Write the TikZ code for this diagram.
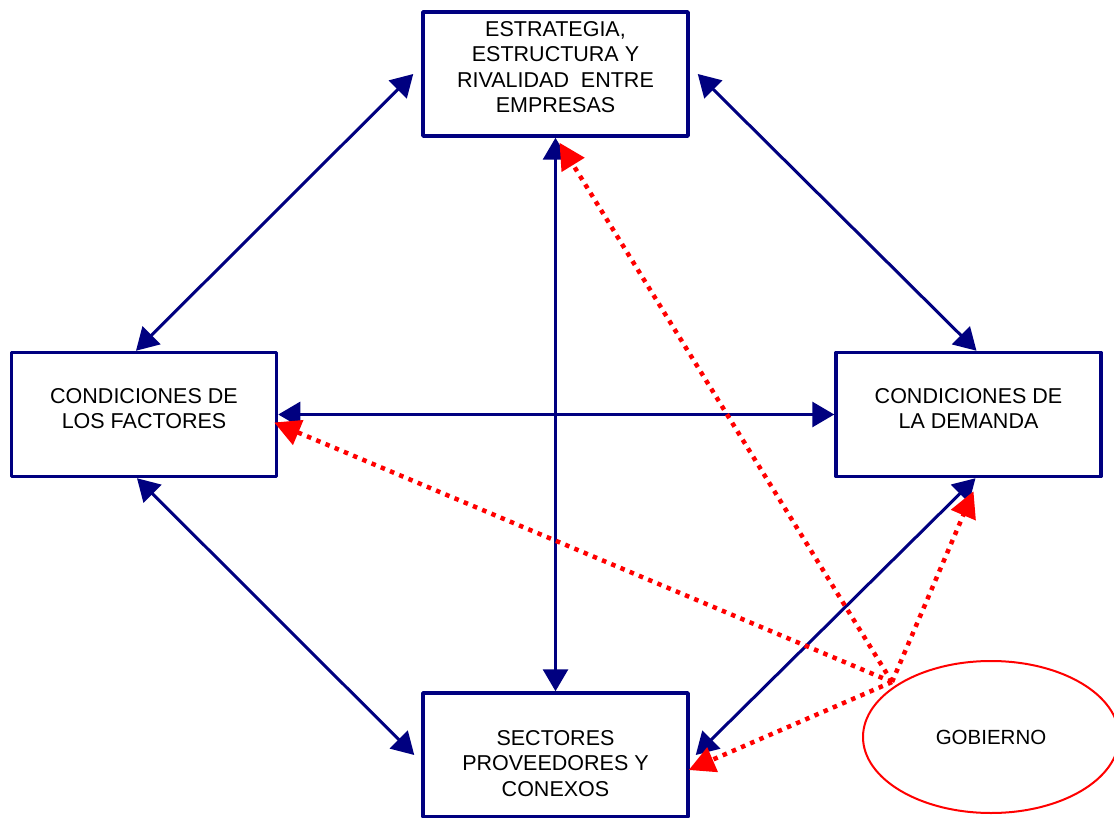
\documentclass[tikz,border=0pt]{standalone}
\usepackage{fontspec}
\setmainfont{Liberation Sans}
\usetikzlibrary{arrows.meta,shapes.geometric}
\definecolor{navyblue}{RGB}{0,0,128}
\definecolor{govred}{RGB}{255,0,0}
\tikzset{
  box/.style={draw=navyblue, line width=3.5pt, fill=white, rectangle,
    minimum width=265pt, minimum height=124pt, inner sep=0pt, line join=round},
  lbl/.style={align=center, font=\fontsize{21.5}{25.5}\selectfont, text=black, inner sep=0pt},
  link/.style={draw=navyblue, line width=3pt,
    {Triangle[length=22pt,width=25pt]}-{Triangle[length=22pt,width=25pt]}},
  influence/.style={draw=govred, line width=4.5pt, dash pattern=on 4.5pt off 5.5pt,
    -{Triangle[length=26pt,width=26pt]}},
  govshape/.style={draw=govred, line width=2pt, ellipse, fill=white,
    minimum width=256pt, minimum height=152pt, inner sep=0pt}
}
\begin{document}
\begin{tikzpicture}[x=1pt,y=-1pt]
\clip (0,0) rectangle (1114,818);
\fill[white] (0,0) rectangle (1114,818);

% the four determinants
\node[box] (top) at (555.5,74) {};
\node[box] (left) at (144,414.5) {};
\node[box] (right) at (968.5,414.5) {};
\node[box] (bottom) at (555.5,755) {};

\node[lbl] (toptxt) at (555.5,67) {ESTRATEGIA,\\ESTRUCTURA Y\\RIVALIDAD\ \ ENTRE\\EMPRESAS};
\node[lbl] (lefttxt) at (144,408.5) {CONDICIONES DE\\LOS FACTORES};
\node[lbl] (righttxt) at (968.5,408.5) {CONDICIONES DE\\LA DEMANDA};
\node[lbl] (bottomtxt) at (555.5,763.5) {SECTORES\\PROVEEDORES Y\\CONEXOS};

% government
\node[govshape] (gob) at (991,737) {};
\node[lbl, font=\fontsize{20.5}{24}\selectfont] (gobtxt) at (991,737) {GOBIERNO};
\coordinate (gov) at (892,682);

% mutual links of the diamond
\draw[link] ([xshift=-8pt]top.west) -- ([xshift=-8pt]left.north);
\draw[link] ([xshift=8pt]top.east) -- ([xshift=8pt]right.north);
\draw[link] ([xshift=-7pt]left.south) -- ([xshift=-7pt]bottom.west);
\draw[link] ([xshift=7pt]right.south) -- ([xshift=6pt]bottom.east);
\draw[link] (top.south) -- (bottom.north);
\draw[link] (left.east) -- (right.west);

% influence of government
\draw[influence] (gov) -- ([xshift=4pt,yshift=-5pt]top.south);
\draw[influence] (gov) -- ([xshift=-4pt,yshift=-8pt]left.east);
\draw[influence] (gov) -- ([xshift=5pt,yshift=-13pt]right.south);
\draw[influence] (gov) -- ([xshift=-1pt,yshift=-15pt]bottom.east);
\end{tikzpicture}
\end{document}
